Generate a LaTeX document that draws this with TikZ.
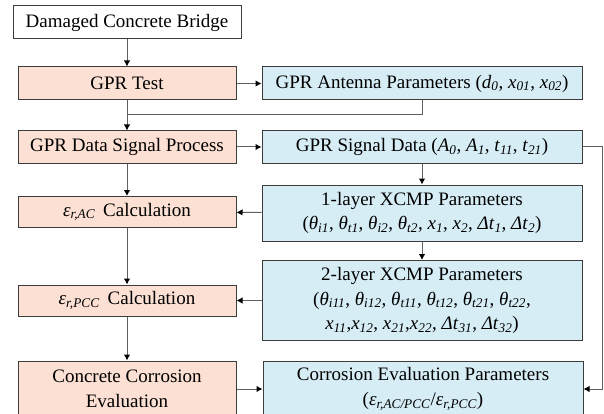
\documentclass[tikz,border=0pt]{standalone}
\usepackage{fontspec}
\setmainfont{Liberation Serif}
\usetikzlibrary{arrows.meta}

\definecolor{peach}{RGB}{251,224,211}
\definecolor{sky}{RGB}{214,237,245}
\definecolor{edge}{RGB}{60,60,60}
\definecolor{wire}{RGB}{95,95,95}
\newcommand{\vs}[2]{\textit{#1}\textsubscript{\textit{#2}}}

\begin{document}
\begin{tikzpicture}[x=1pt, y=-1pt,
    box/.style = {rectangle, draw=edge, line width=1pt, inner sep=0pt, align=center, font=\fontsize{19}{24.5}\selectfont},
    work/.style = {box, fill=peach, minimum width=218pt},
    info/.style = {box, fill=sky, minimum width=320pt},
    link/.style = {draw=wire, line width=1pt, -{Latex[length=6pt, width=6.5pt, color=black]}}]
                \clip (0,0) rectangle (604,414);

                \node[box, fill=white, minimum width=228pt, minimum height=33pt] (bridge) at (127, 22.5) {Damaged Concrete Bridge};
                \node[work, minimum height=33pt] (test) at (127, 83.5) {GPR Test};
                \node[work, minimum height=32pt] (process) at (127, 147) {GPR Data Signal Process};
                \node[work, minimum height=31pt] (ac) at (127, 212) {\vs{ε}{r,AC}\, Calculation};
                \node[work, minimum height=31pt] (pcc) at (127, 300.5) {\vs{ε}{r,PCC}\, Calculation};
                \node[work, minimum height=56pt] (eval) at (127, 389) {Concrete Corrosion\\Evaluation};

                \node[info, minimum height=33pt] (antenna) at (422, 83.5) {GPR Antenna Parameters (\vs{d}{0}, \vs{x}{01}, \vs{x}{02})};
                \node[info, minimum height=32pt] (signal) at (422, 147) {GPR Signal Data (\vs{A}{0}, \vs{A}{1}, \vs{t}{11}, \vs{t}{21})};
                \node[info, minimum height=56pt] (xcmp1) at (422, 213) {1-layer XCMP Parameters\\(\vs{θ}{i1}, \vs{θ}{t1}, \vs{θ}{i2}, \vs{θ}{t2}, \vs{x}{1}, \vs{x}{2}, \vs{Δt}{1}, \vs{Δt}{2})};
                \node[info, minimum height=80pt] (xcmp2) at (422, 300.5) {2-layer XCMP Parameters\\(\vs{θ}{i11}, \vs{θ}{i12}, \vs{θ}{t11}, \vs{θ}{t12}, \vs{θ}{t21}, \vs{θ}{t22},\\\vs{x}{11},\vs{x}{12}, \vs{x}{21},\vs{x}{22}, \vs{Δt}{31}, \vs{Δt}{32})};
                \node[info, minimum height=56pt] (params) at (423, 389) {Corrosion Evaluation Parameters\\(\vs{ε}{r,AC/PCC}/\vs{ε}{r,PCC})};

                \coordinate (join) at (127, 115);

                \draw[link] (bridge) -- (test);
                \draw[link] (test) -- (antenna);
                \draw[link] (test) -- (process);
                \draw[draw=wire, line width=1pt] (antenna) |- (join);
                \draw[link] (process) -- (signal);
                \draw[link] (process) -- (ac);
                \draw[link] (signal) -- (xcmp1);
                \draw[link] (xcmp1) -- (ac);
                \draw[link] (xcmp1) -- (xcmp2);
                \draw[link] (xcmp2) -- (pcc);
                \draw[link] (ac) -- (pcc);
                \draw[link] (pcc) -- (eval);
                \draw[link] (eval) -- (params);
                \draw[link] (signal.east) -- ++(20, 0) |- (params.east);
            \end{tikzpicture}
\end{document}
